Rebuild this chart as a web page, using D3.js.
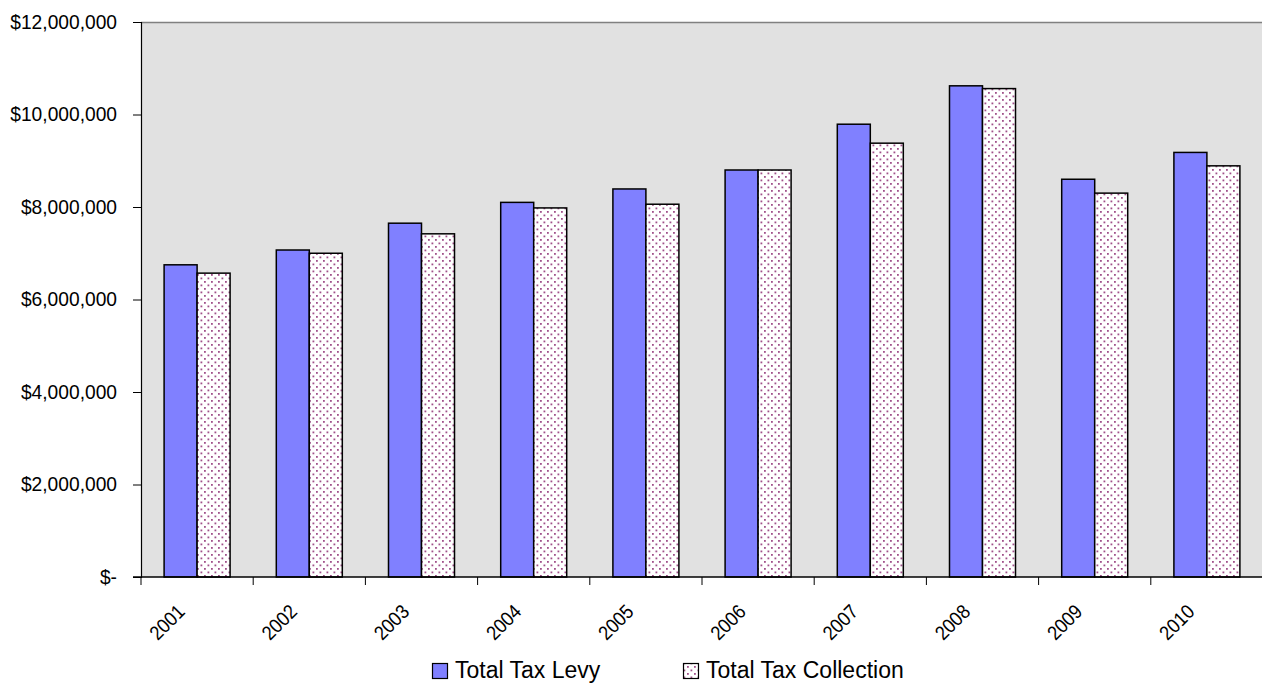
<!DOCTYPE html>
<html><head><meta charset="utf-8">
<script src="https://cdn.jsdelivr.net/npm/d3@7"></script>
<style>
html,body{margin:0;padding:0;background:#fff;}
svg text{font-family:"Liberation Sans",Arial,sans-serif;fill:#000;}
</style></head><body>
<svg id="c" width="1262" height="683"></svg>
<script>
const years = ["2001","2002","2003","2004","2005","2006","2007","2008","2009","2010"];
const levy = [6750000,7070000,7650000,8100000,8390000,8800000,9790000,10620000,8600000,9180000];
const collection = [6570000,7000000,7420000,7980000,8060000,8800000,9380000,10560000,8300000,8890000];
const yTicks = [0,2000000,4000000,6000000,8000000,10000000,12000000];
const seriesNames = ["Total Tax Levy","Total Tax Collection"];

const svg = d3.select("#c");
const L = 141, T = 22, B = 577, R = 141 + 112.2*10;
const defs = svg.append("defs");
const pat = defs.append("pattern").attr("id","dots").attr("patternUnits","userSpaceOnUse")
  .attr("width",7).attr("height",7);
pat.append("rect").attr("width",7).attr("height",7).attr("fill","#fff");
pat.append("rect").attr("x",1).attr("y",1).attr("width",1.8).attr("height",1.8).attr("fill","#a0508a");
pat.append("rect").attr("x",4.5).attr("y",4.5).attr("width",1.8).attr("height",1.8).attr("fill","#a0508a");

const x = d3.scaleBand().domain(years).range([L,R]).paddingInner(0).paddingOuter(0);
const x1 = d3.scaleBand().domain([0,1]).range([0,x.bandwidth()]).paddingOuter(0.7).paddingInner(0);
const y = d3.scaleLinear().domain([0,12000000]).range([B,T]);

svg.append("rect").attr("x",L).attr("y",T).attr("width",R-L).attr("height",B-T).attr("fill","#e1e1e1");
svg.append("line").attr("x1",L).attr("x2",R).attr("y1",T+0.5).attr("y2",T+0.5).attr("stroke","#808080").attr("stroke-width",1.5);

const fmt = v => v===0 ? "$-" : "$" + d3.format(",")(v);
const ya = svg.append("g").attr("transform",`translate(${L},0)`)
  .call(d3.axisLeft(y).tickValues(yTicks).tickFormat(fmt).tickSize(8).tickPadding(16));
ya.select(".domain").attr("stroke","#000").attr("stroke-width",1.2);
ya.selectAll(".tick line").attr("stroke","#000");
ya.selectAll("text").each(function(){
  d3.select(this).attr("x", null).attr("transform","translate(-24,0) scale(0.96,1)")
   .style("font-size","20px").style("font-family",'"Liberation Sans",Arial,sans-serif');
});

const g = svg.append("g");
years.forEach((yr,i)=>{
  [levy[i],collection[i]].forEach((v,s)=>{
    g.append("rect").attr("x",x(yr)+x1(s)).attr("y",y(v)).attr("width",x1.bandwidth()).attr("height",B-y(v))
      .attr("fill", s===0 ? "#8080ff" : "url(#dots)").attr("stroke","#000").attr("stroke-width",1.5);
  });
});

svg.append("line").attr("x1",L-8).attr("x2",R).attr("y1",B).attr("y2",B).attr("stroke","#000").attr("stroke-width",1.5);
const tickXs = years.map(yr=>x(yr)).concat([R]);
svg.selectAll(".xt").data(tickXs).enter().append("line")
  .attr("x1",d=>d).attr("x2",d=>d).attr("y1",B).attr("y2",B+8).attr("stroke","#000");
svg.selectAll(".xl").data(years).enter().append("text")
  .attr("transform",d=>`translate(${x(d)+x.bandwidth()/2-11},${B+36}) rotate(-45) scale(0.9,1)`)
  .attr("text-anchor","end").style("font-size","20px").text(d=>d);

const leg = svg.append("g");
const legX = [432, 683];
seriesNames.forEach((n,i)=>{
  leg.append("rect").attr("x",legX[i]+0.5).attr("y",663.5).attr("width",15).attr("height",15)
    .attr("fill", i===0 ? "#8080ff" : "url(#dots)").attr("stroke","#000").attr("stroke-width",1.2);
  leg.append("text").attr("x",legX[i]+23).attr("y",678)
    .style("font-size","23px").text(n);
});
</script></body></html>
